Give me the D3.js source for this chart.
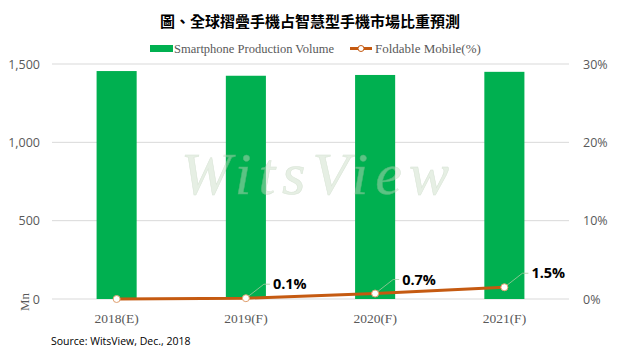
<!DOCTYPE html>
<html>
<head>
<meta charset="utf-8">
<script src="https://cdn.jsdelivr.net/npm/d3@7"></script>
<style>
  body { margin: 0; background: #fff; }
  svg { display: block; }
</style>
</head>
<body>
<div id="chart"></div>
<script>
// chart data
const years = ["2018(E)", "2019(F)", "2020(F)", "2021(F)"];
const volume = [1455, 1425, 1430, 1450];
const foldable = [0, 0.1, 0.7, 1.5];
const pctLabels = [null, "0.1%", "0.7%", "1.5%"];
const leftTicks = [0, 500, 1000, 1500];
const rightTicks = [0, 10, 20, 30];

const W = 621, H = 352;
const margin = {top: 64, right: 52, bottom: 53, left: 52};
const width = W - margin.left - margin.right;
const height = H - margin.top - margin.bottom;

const svg = d3.select("#chart").append("svg")
  .attr("width", W)
  .attr("height", H);

// title
svg.append("text")
  .attr("x", 310).attr("y", 27)
  .attr("text-anchor", "middle")
  .style("font-family", "'Noto Sans CJK TC', sans-serif")
  .style("font-weight", "700")
  .style("font-size", "15px")
  .text("圖、全球摺疊手機占智慧型手機市場比重預測");

// legend
const legend = svg.append("g").style("font-family", "'Liberation Serif', serif").style("font-size", "12.5px").style("fill", "#595959");
legend.append("rect").attr("x", 150).attr("y", 45).attr("width", 23).attr("height", 7).attr("fill", "#00B050");
legend.append("text").attr("x", 174).attr("y", 53).text("Smartphone Production Volume");
legend.append("line").attr("x1", 350).attr("x2", 372).attr("y1", 48.5).attr("y2", 48.5)
  .attr("stroke", "#C55A11").attr("stroke-width", 3);
legend.append("circle").attr("cx", 361).attr("cy", 48.5).attr("r", 3)
  .attr("fill", "#fff").attr("stroke", "#C55A11").attr("stroke-width", 1);
legend.append("text").attr("x", 375).attr("y", 53).style("font-size", "13px").text("Foldable Mobile(%)");

const g = svg.append("g").attr("transform", `translate(${margin.left},${margin.top})`);

const x = d3.scaleBand().domain(years).range([0, width]).paddingInner(0.69).paddingOuter(0.345);
const yL = d3.scaleLinear().domain([0, 1500]).range([height, 0]);
const yR = d3.scaleLinear().domain([0, 30]).range([height, 0]);

// gridlines
g.append("g").selectAll("line").data(leftTicks).join("line")
  .attr("x1", 0).attr("x2", width)
  .attr("y1", d => yL(d)).attr("y2", d => yL(d))
  .attr("stroke", "#d9d9d9").attr("stroke-width", 1);

// bars
g.append("g").selectAll("rect").data(volume).join("rect")
  .attr("x", (d, i) => x(years[i]))
  .attr("y", d => yL(d))
  .attr("width", x.bandwidth())
  .attr("height", d => height - yL(d))
  .attr("fill", "#00B050");

// watermark, faint, over the bars
g.append("text")
  .attr("x", width / 2 + 8).attr("y", 130)
  .attr("text-anchor", "middle")
  .style("font-family", "'Liberation Serif', serif")
  .style("font-style", "italic")
  .style("font-size", "60px")
  .style("letter-spacing", "7px")
  .attr("fill", "#c9dcc4")
  .attr("stroke", "#a9c4a4")
  .attr("stroke-width", 0.5)
  .attr("opacity", 0.45)
  .text("WitsView");

// left axis
const leftAxis = g.append("g")
  .call(d3.axisLeft(yL).tickValues(leftTicks).tickFormat(d3.format(",")).tickSize(0).tickPadding(12));
leftAxis.select(".domain").remove();
leftAxis.selectAll("text")
  .style("font-family", "'Open Sans', sans-serif")
  .style("font-size", "12.5px")
  .attr("fill", "#595959");

// right axis
const rightAxis = g.append("g").attr("transform", `translate(${width},0)`)
  .call(d3.axisRight(yR).tickValues(rightTicks).tickFormat(d => d + "%").tickSize(0).tickPadding(14));
rightAxis.select(".domain").remove();
rightAxis.selectAll("text")
  .style("font-family", "'Open Sans', sans-serif")
  .style("font-size", "12.5px")
  .attr("fill", "#595959");

// x axis
const xAxis = g.append("g").attr("transform", `translate(0,${height})`)
  .call(d3.axisBottom(x).tickSize(0).tickPadding(14));
xAxis.select(".domain").remove();
xAxis.selectAll("text")
  .style("font-family", "'Liberation Serif', serif")
  .style("font-size", "13.5px")
  .attr("fill", "#595959");

// Mn label
svg.append("text")
  .attr("transform", `translate(29,${margin.top + height + 3}) rotate(-90)`)
  .attr("text-anchor", "middle")
  .style("font-family", "'Liberation Serif', serif")
  .style("font-size", "13px")
  .attr("fill", "#595959")
  .text("Mn");

// line
const cx = i => x(years[i]) + x.bandwidth() / 2;
g.append("path")
  .datum(foldable)
  .attr("fill", "none")
  .attr("stroke", "#C55A11")
  .attr("stroke-width", 3)
  .attr("d", d3.line().x((d, i) => cx(i)).y(d => yR(d)));

// leader lines + labels
foldable.forEach((d, i) => {
  if (!pctLabels[i]) return;
  const px = cx(i), py = yR(d);
  g.append("polyline")
    .attr("points", `${px},${py} ${px + 18},${py - 14} ${px + 24},${py - 14}`)
    .attr("fill", "none")
    .attr("stroke", "#a6c9a0")
    .attr("stroke-width", 0.8);
  g.append("text")
    .attr("x", px + 27).attr("y", py - 9)
    .style("font-family", "'Open Sans', sans-serif")
    .style("font-weight", "700")
    .style("font-size", "14.5px")
    .attr("fill", "#000")
    .text(pctLabels[i]);
});

g.append("g").selectAll("circle").data(foldable).join("circle")
  .attr("cx", (d, i) => cx(i))
  .attr("cy", d => yR(d))
  .attr("r", 3.5)
  .attr("fill", "#fff")
  .attr("stroke", "#E0A070")
  .attr("stroke-width", 1);

// source
svg.append("text")
  .attr("x", 51).attr("y", 345)
  .style("font-family", "'Open Sans', sans-serif")
  .style("font-size", "10.5px")
  .attr("fill", "#000")
  .text("Source: WitsView, Dec., 2018");
</script>
</body>
</html>
